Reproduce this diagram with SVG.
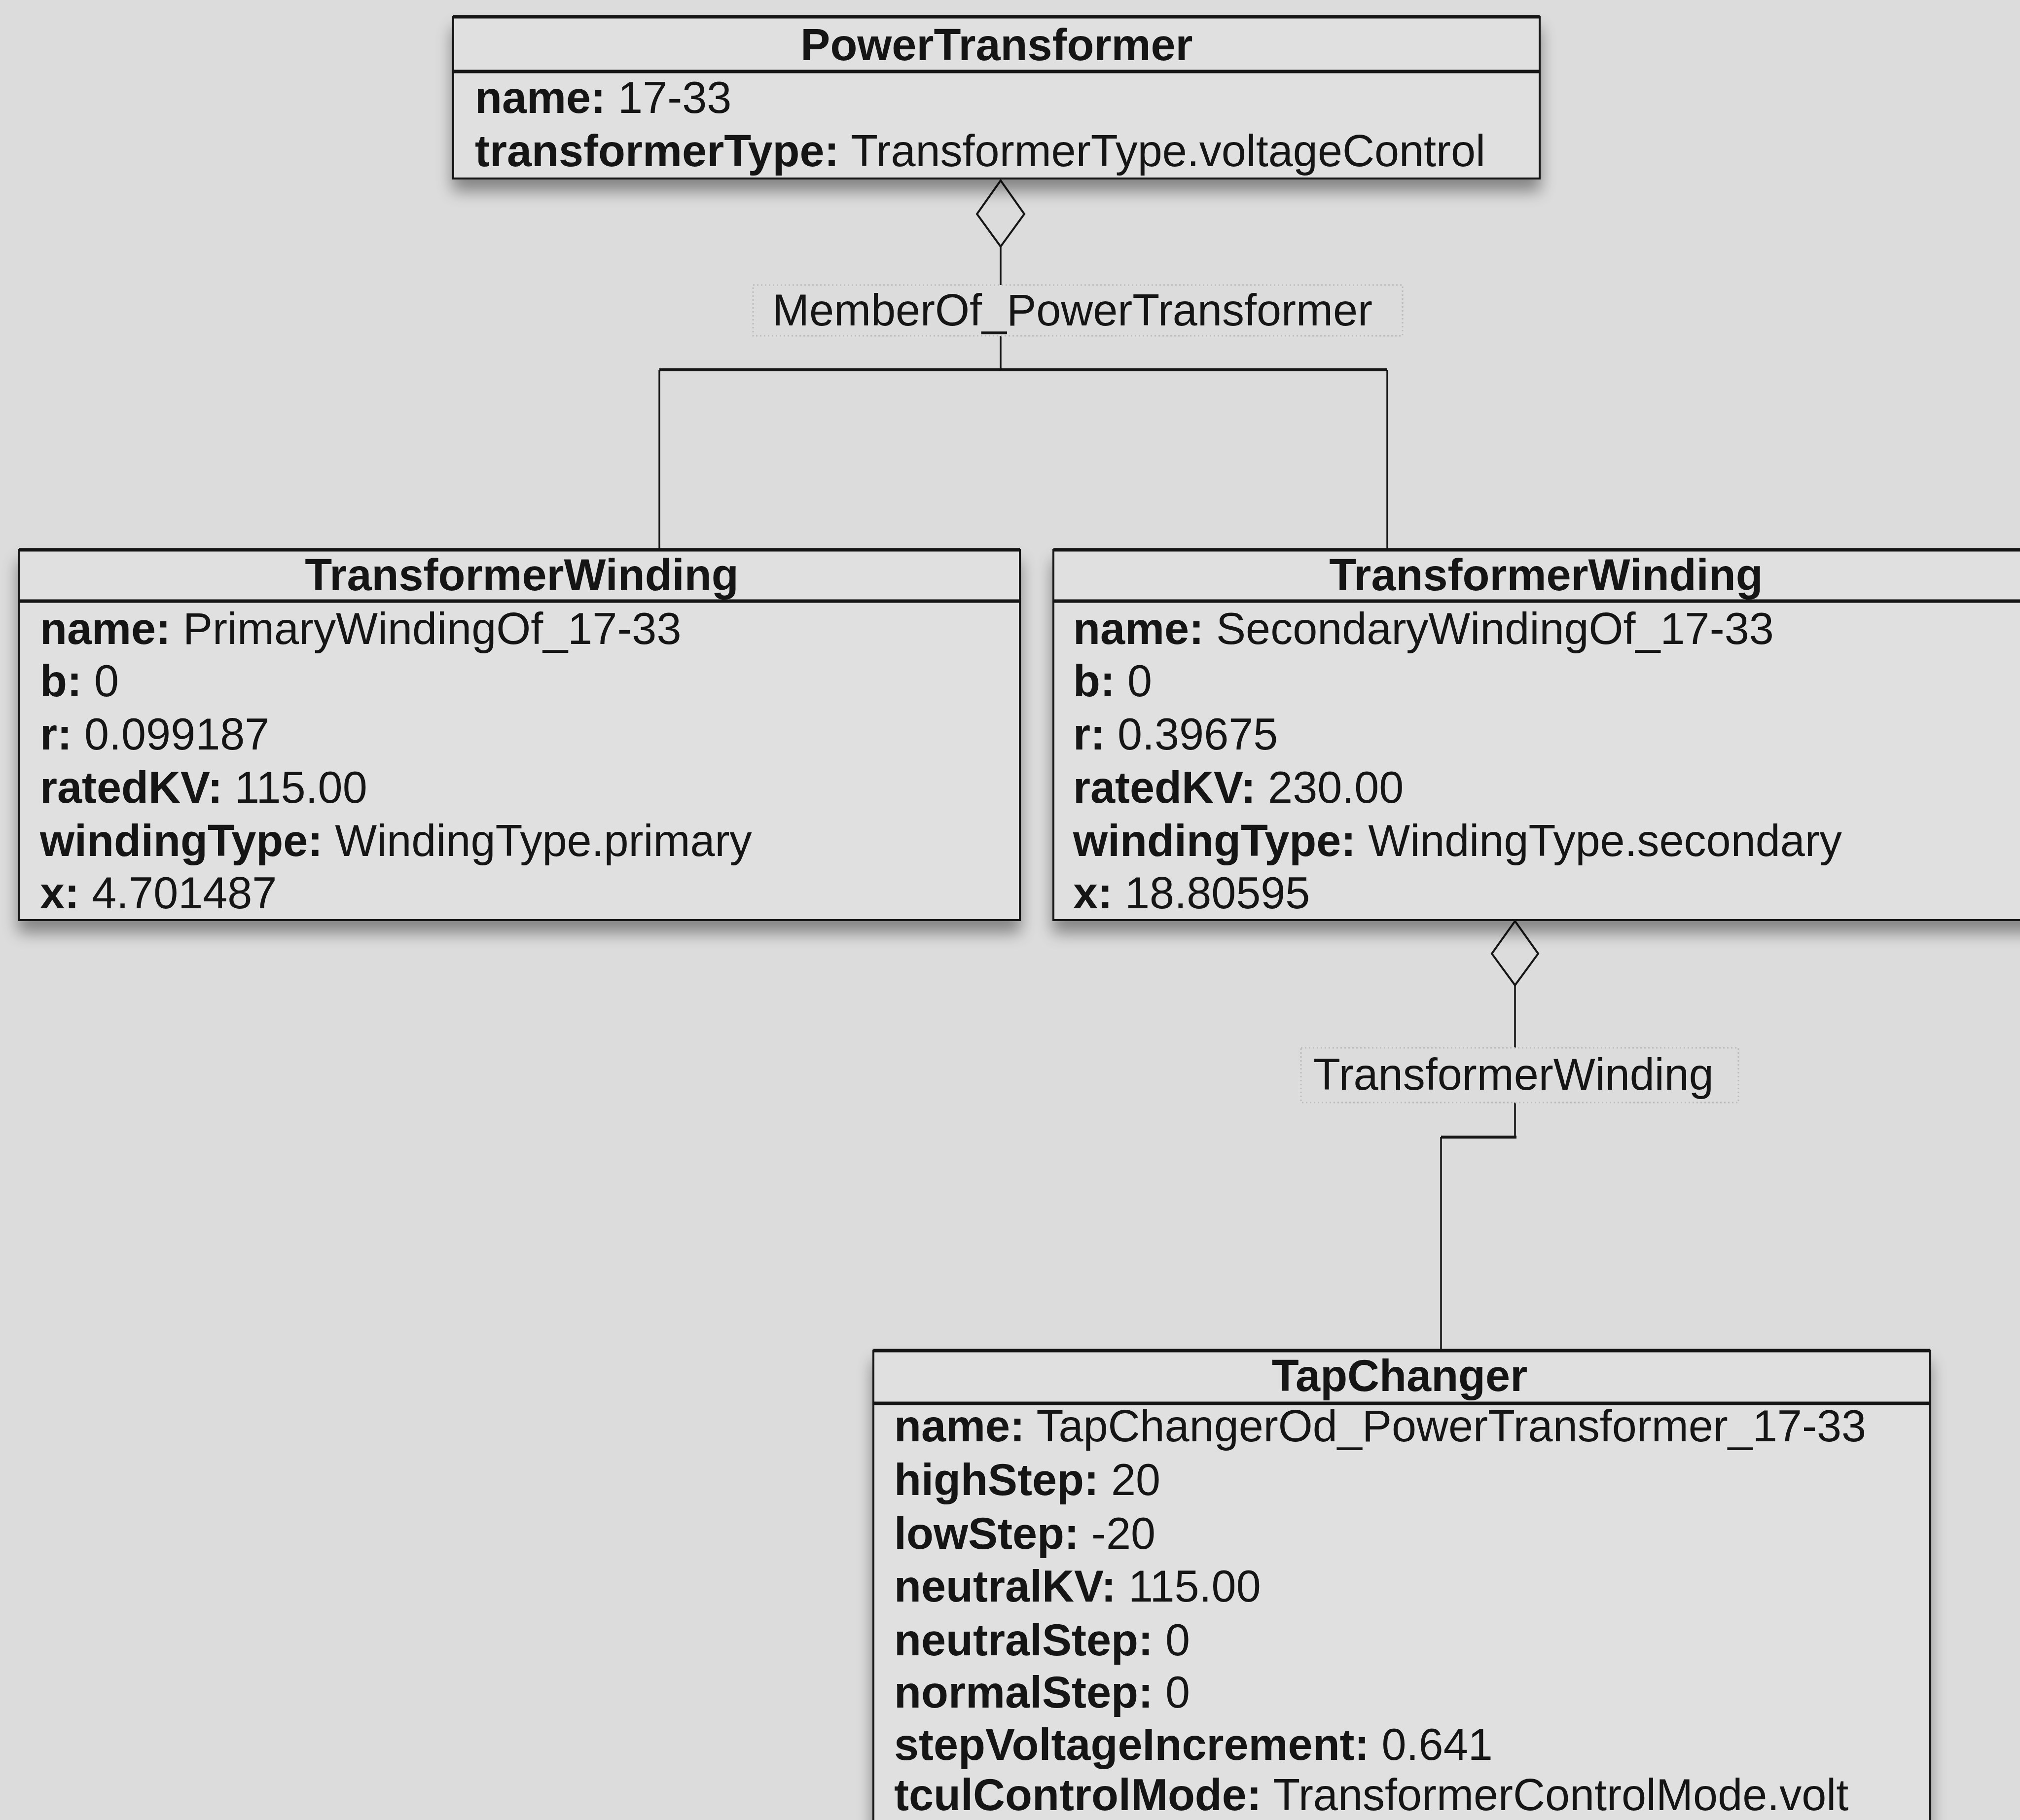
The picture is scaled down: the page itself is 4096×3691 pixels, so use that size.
<svg xmlns="http://www.w3.org/2000/svg" width="4096" height="3691" viewBox="0 0 4096 3691">
<defs>
<style>
.bg{fill:#dcdcdc}
.box{fill:#e0e0e0;stroke:#161616;stroke-width:4}
.heavy{stroke:#161616;stroke-width:7;fill:none}
.ln{stroke:#161616;stroke-width:3.5;fill:none}
.bar{stroke:#161616;stroke-width:6;fill:none}
.dia{fill:#dcdcdc;stroke:#161616;stroke-width:4;stroke-linejoin:miter}
.lbl{fill:#dcdcdc;stroke:#bcbcbc;stroke-width:3;stroke-dasharray:3 5}
text{font-family:"Liberation Sans",Arial,Helvetica,sans-serif;font-size:90px;fill:#151515}
.t{font-weight:bold;text-anchor:middle}
.b{font-weight:bold}
</style>
<filter id="sh" x="-5%" y="-10%" width="110%" height="130%">
<feGaussianBlur in="SourceAlpha" stdDeviation="16"/>
<feOffset dy="24"/>
<feComponentTransfer><feFuncA type="linear" slope="0.4"/></feComponentTransfer>
<feMerge><feMergeNode/><feMergeNode in="SourceGraphic"/></feMerge>
</filter>
</defs>
<rect class="bg" x="0" y="0" width="4096" height="3691"/>

<g id="connectors">
<line class="ln" x1="2029" y1="500" x2="2029" y2="750"/>
<line class="bar" x1="1337" y1="750" x2="2813" y2="750"/>
<line class="ln" x1="1337" y1="750" x2="1337" y2="1116"/>
<line class="ln" x1="2813" y1="750" x2="2813" y2="1116"/>
<polygon class="dia" points="2029,366 2077,434 2029,500 1981,434"/>
<rect class="lbl" x="1527" y="578" width="1317" height="103"/>
<text x="1566" y="660">MemberOf_PowerTransformer</text>

<line class="ln" x1="3072" y1="1998" x2="3072" y2="2306"/>
<line class="bar" x1="2922" y1="2306" x2="3075" y2="2306"/>
<line class="ln" x1="2922" y1="2306" x2="2922" y2="2740"/>
<polygon class="dia" points="3072,1868 3119,1934 3072,1998 3025,1934"/>
<rect class="lbl" x="2638" y="2125" width="887" height="111"/>
<text x="2663" y="2210">TransformerWinding</text>
</g>

<g id="powertransformer">
<rect class="box" x="919" y="34" width="2203" height="328" filter="url(#sh)"/>
<line class="heavy" x1="919" y1="34" x2="3122" y2="34"/>
<line class="heavy" x1="919" y1="145" x2="3122" y2="145"/>
<text class="t" x="2021" y="122">PowerTransformer</text>
<text x="963" y="229"><tspan class="b">name:</tspan> 17-33</text>
<text x="963" y="337"><tspan class="b">transformerType:</tspan> TransformerType.voltageControl</text>
</g>

<g id="winding-primary">
<rect class="box" x="38" y="1115" width="2030" height="751" filter="url(#sh)"/>
<line class="heavy" x1="38" y1="1115" x2="2068" y2="1115"/>
<line class="heavy" x1="38" y1="1219" x2="2068" y2="1219"/>
<text class="t" x="1058" y="1197">TransformerWinding</text>
<text x="81" y="1306"><tspan class="b">name:</tspan> PrimaryWindingOf_17-33</text>
<text x="81" y="1412"><tspan class="b">b:</tspan> 0</text>
<text x="81" y="1520"><tspan class="b">r:</tspan> 0.099187</text>
<text x="81" y="1628"><tspan class="b">ratedKV:</tspan> 115.00</text>
<text x="81" y="1736"><tspan class="b">windingType:</tspan> WindingType.primary</text>
<text x="81" y="1842"><tspan class="b">x:</tspan> 4.701487</text>
</g>

<g id="winding-secondary">
<rect class="box" x="2136" y="1115" width="2010" height="751" filter="url(#sh)"/>
<line class="heavy" x1="2136" y1="1115" x2="4146" y2="1115"/>
<line class="heavy" x1="2136" y1="1219" x2="4146" y2="1219"/>
<text class="t" x="3135" y="1197">TransformerWinding</text>
<text x="2176" y="1306"><tspan class="b">name:</tspan> SecondaryWindingOf_17-33</text>
<text x="2176" y="1412"><tspan class="b">b:</tspan> 0</text>
<text x="2176" y="1520"><tspan class="b">r:</tspan> 0.39675</text>
<text x="2176" y="1628"><tspan class="b">ratedKV:</tspan> 230.00</text>
<text x="2176" y="1736"><tspan class="b">windingType:</tspan> WindingType.secondary</text>
<text x="2176" y="1842"><tspan class="b">x:</tspan> 18.80595</text>
</g>

<g id="tapchanger">
<rect class="box" x="1771" y="2739" width="2142" height="1010" filter="url(#sh)"/>
<line class="heavy" x1="1771" y1="2739" x2="3913" y2="2739"/>
<line class="heavy" x1="1771" y1="2846" x2="3913" y2="2846"/>
<text class="t" x="2838" y="2821">TapChanger</text>
<text x="1813" y="2923"><tspan class="b">name:</tspan> TapChangerOd_PowerTransformer_17-33</text>
<text x="1813" y="3032"><tspan class="b">highStep:</tspan> 20</text>
<text x="1813" y="3141"><tspan class="b">lowStep:</tspan> -20</text>
<text x="1813" y="3248"><tspan class="b">neutralKV:</tspan> 115.00</text>
<text x="1813" y="3357"><tspan class="b">neutralStep:</tspan> 0</text>
<text x="1813" y="3463"><tspan class="b">normalStep:</tspan> 0</text>
<text x="1813" y="3569"><tspan class="b">stepVoltageIncrement:</tspan> 0.641</text>
<text x="1813" y="3671"><tspan class="b">tculControlMode:</tspan> TransformerControlMode.volt</text>
</g>
</svg>
